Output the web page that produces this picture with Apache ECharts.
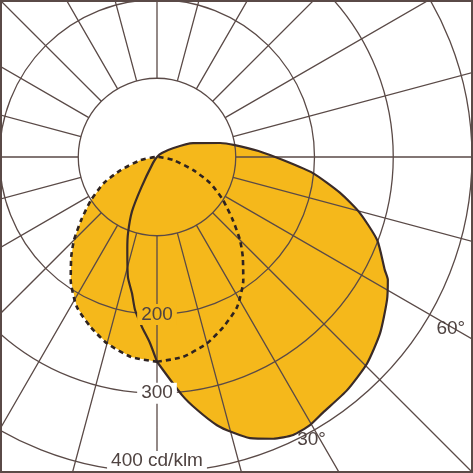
<!DOCTYPE html>
<html>
<head>
<meta charset="utf-8">
<script src="https://cdn.jsdelivr.net/npm/echarts@6/dist/echarts.min.js"></script>
<style>
html,body{margin:0;padding:0;background:#fff;}
#chart{width:473px;height:473px;}
</style>
</head>
<body>
<div id="chart"></div>
<script>
// ---- data (cd/klm vs angle, 0 deg = nadir, increasing towards the right) ----
const solidAngles = [0, 6, 9, 12.6, 15.4, 18.3, 22.4, 26.1, 29.7, 33, 39.2, 45.5, 51.7, 58.1, 62, 63.6, 69.3, 74.6, 78.9, 84.1, 88.6, 93.4, 98.7, 102.5, 111, 119, 129, 180, 326, 332.7, 335.3, 339.1, 342, 346.4, 349.6, 351.8, 355, 357.8, 360];
const solidValues = [260, 304, 325, 349, 363, 376, 387, 393, 392, 387, 382, 374, 361, 344, 332, 323, 299, 267, 237, 199, 160, 129, 100, 82, 49, 23, 8, 0, 9, 43, 76, 103, 122, 157, 176, 196, 217, 236, 260];

const dashedAngles = [0, 7.4, 15, 21.2, 28.1, 35, 40.7, 45, 50.3, 56.9, 63.9, 70.1, 79.4, 90, 270, 280.6, 289.9, 296.1, 303.1, 309.7, 315, 319.3, 325, 331.9, 338.8, 345, 352.6, 360];
const dashedValues = [260, 256, 245, 232, 216, 191, 167, 149, 125, 100, 75, 49, 21, 0, 0, 21, 49, 75, 100, 125, 149, 167, 191, 216, 232, 245, 256, 260];

const radiusTicks = [100, 200, 300, 400];
const radiusLabelTicks = [200, 300, 400];
const radiusUnit = 'cd/klm';
const angleLabelValues = [30, 60];
const angleLabelTexts = ['30°', '60°'];

// ---- layout ----
const CX = 157, CY = 157;
const PX_PER_UNIT = 315 / 400;
const R_OUT = 400 * PX_PER_UNIT;
const R_IN = 100 * PX_PER_UNIT;
const angleLabelOffsets = [[-3, 10], [21, 14]];

const GRID = '#5a4a47';
const TEXT = '#4f4341';
const FILL = '#f5b81b';
const FONT = '"Liberation Sans", Arial, Helvetica, sans-serif';

const solidData = solidAngles.map((a, i) => [solidValues[i], a]);
const dashedData = dashedAngles.map((a, i) => [dashedValues[i], a]);

// label backgrounds follow what lies beneath them (fill inside the curves, paper outside)
const labelBg = {200: FILL, 300: '#ffffff', 400: '#ffffff'};

const radiusLabelData = radiusLabelTicks.map(v => {
  const last = v === radiusTicks[radiusTicks.length - 1];
  return {
    value: [v, 0],
    label: {
      formatter: last ? v + ' ' + radiusUnit : String(v),
      position: last ? 'top' : 'inside',
      distance: 0,
      backgroundColor: labelBg[v]
    }
  };
});
const angleLabelData = angleLabelValues.map((a, i) => ({
  value: [radiusTicks[radiusTicks.length - 1], a],
  label: { formatter: angleLabelTexts[i], offset: angleLabelOffsets[i] }
}));

const chart = echarts.init(document.getElementById('chart'), null, {renderer: 'canvas'});
chart.setOption({
  backgroundColor: '#ffffff',
  animation: false,
  polar: [
    { center: [CX, CY], radius: [R_IN, R_OUT] },     // circles
    { center: [CX, CY], radius: [R_IN, 480] },       // radial lines
    { center: [CX, CY], radius: [0, R_OUT] }         // data
  ],
  angleAxis: [
    { polarIndex: 0, type: 'value', min: 0, max: 360, show: false, startAngle: 270, clockwise: false },
    { polarIndex: 1, type: 'value', min: 0, max: 360, interval: 15, startAngle: 270, clockwise: false, z: 3,
      axisLine: {show: false}, axisTick: {show: false}, axisLabel: {show: false},
      splitLine: {show: true, lineStyle: {color: GRID, width: 1.3}} },
    { polarIndex: 2, type: 'value', min: 0, max: 360, show: false, startAngle: 270, clockwise: false }
  ],
  radiusAxis: [
    { polarIndex: 0, type: 'value', min: radiusTicks[0], max: radiusTicks[radiusTicks.length - 1], interval: 100, z: 3,
      axisLine: {show: false}, axisTick: {show: false}, axisLabel: {show: false},
      splitLine: {show: true, showMinLine: true, showMaxLine: true, lineStyle: {color: GRID, width: 1.3}} },
    { polarIndex: 1, type: 'value', min: 0, max: 1, show: false },
    { polarIndex: 2, type: 'value', min: 0, max: 400, show: false }
  ],
  series: [
    { type: 'line', coordinateSystem: 'polar', polarIndex: 2, data: solidData, z: 1, clip: false,
      showSymbol: false, symbol: 'none', lineStyle: {width: 0, opacity: 0},
      areaStyle: {color: FILL, opacity: 1, origin: 0} },
    { type: 'line', coordinateSystem: 'polar', polarIndex: 2, data: dashedData, z: 1, clip: false,
      showSymbol: false, symbol: 'none', lineStyle: {width: 0, opacity: 0},
      areaStyle: {color: FILL, opacity: 1, origin: 0} },
    { type: 'line', coordinateSystem: 'polar', polarIndex: 2, data: solidData, z: 5, clip: false,
      showSymbol: false, symbol: 'none', smooth: 0.2,
      lineStyle: {color: '#3a2b28', width: 2.2} },
    { type: 'line', coordinateSystem: 'polar', polarIndex: 2, data: dashedData, z: 5, clip: false,
      showSymbol: false, symbol: 'none', smooth: 0.2,
      lineStyle: {color: '#2e2321', width: 2.6, type: [5, 4]} },
    { type: 'scatter', coordinateSystem: 'polar', polarIndex: 2, data: radiusLabelData, z: 6,
      symbol: 'circle', symbolSize: 0, itemStyle: {color: '#ffffff', opacity: 1}, silent: true,
      label: {show: true, opacity: 1, color: TEXT, fontSize: 19, fontFamily: FONT, padding: [0, 4, 2, 4]} },
    { type: 'scatter', coordinateSystem: 'polar', polarIndex: 2, data: angleLabelData, z: 6,
      symbol: 'circle', symbolSize: 0, itemStyle: {color: '#ffffff', opacity: 1}, silent: true,
      label: {show: true, opacity: 1, position: 'inside', color: TEXT, fontSize: 19, fontFamily: FONT} }
  ],
  graphic: [{
    type: 'rect', z: 100, silent: true,
    shape: {x: 1, y: 1, width: 471, height: 471},
    style: {fill: null, stroke: GRID, lineWidth: 2}
  }]
});
</script>
</body>
</html>
